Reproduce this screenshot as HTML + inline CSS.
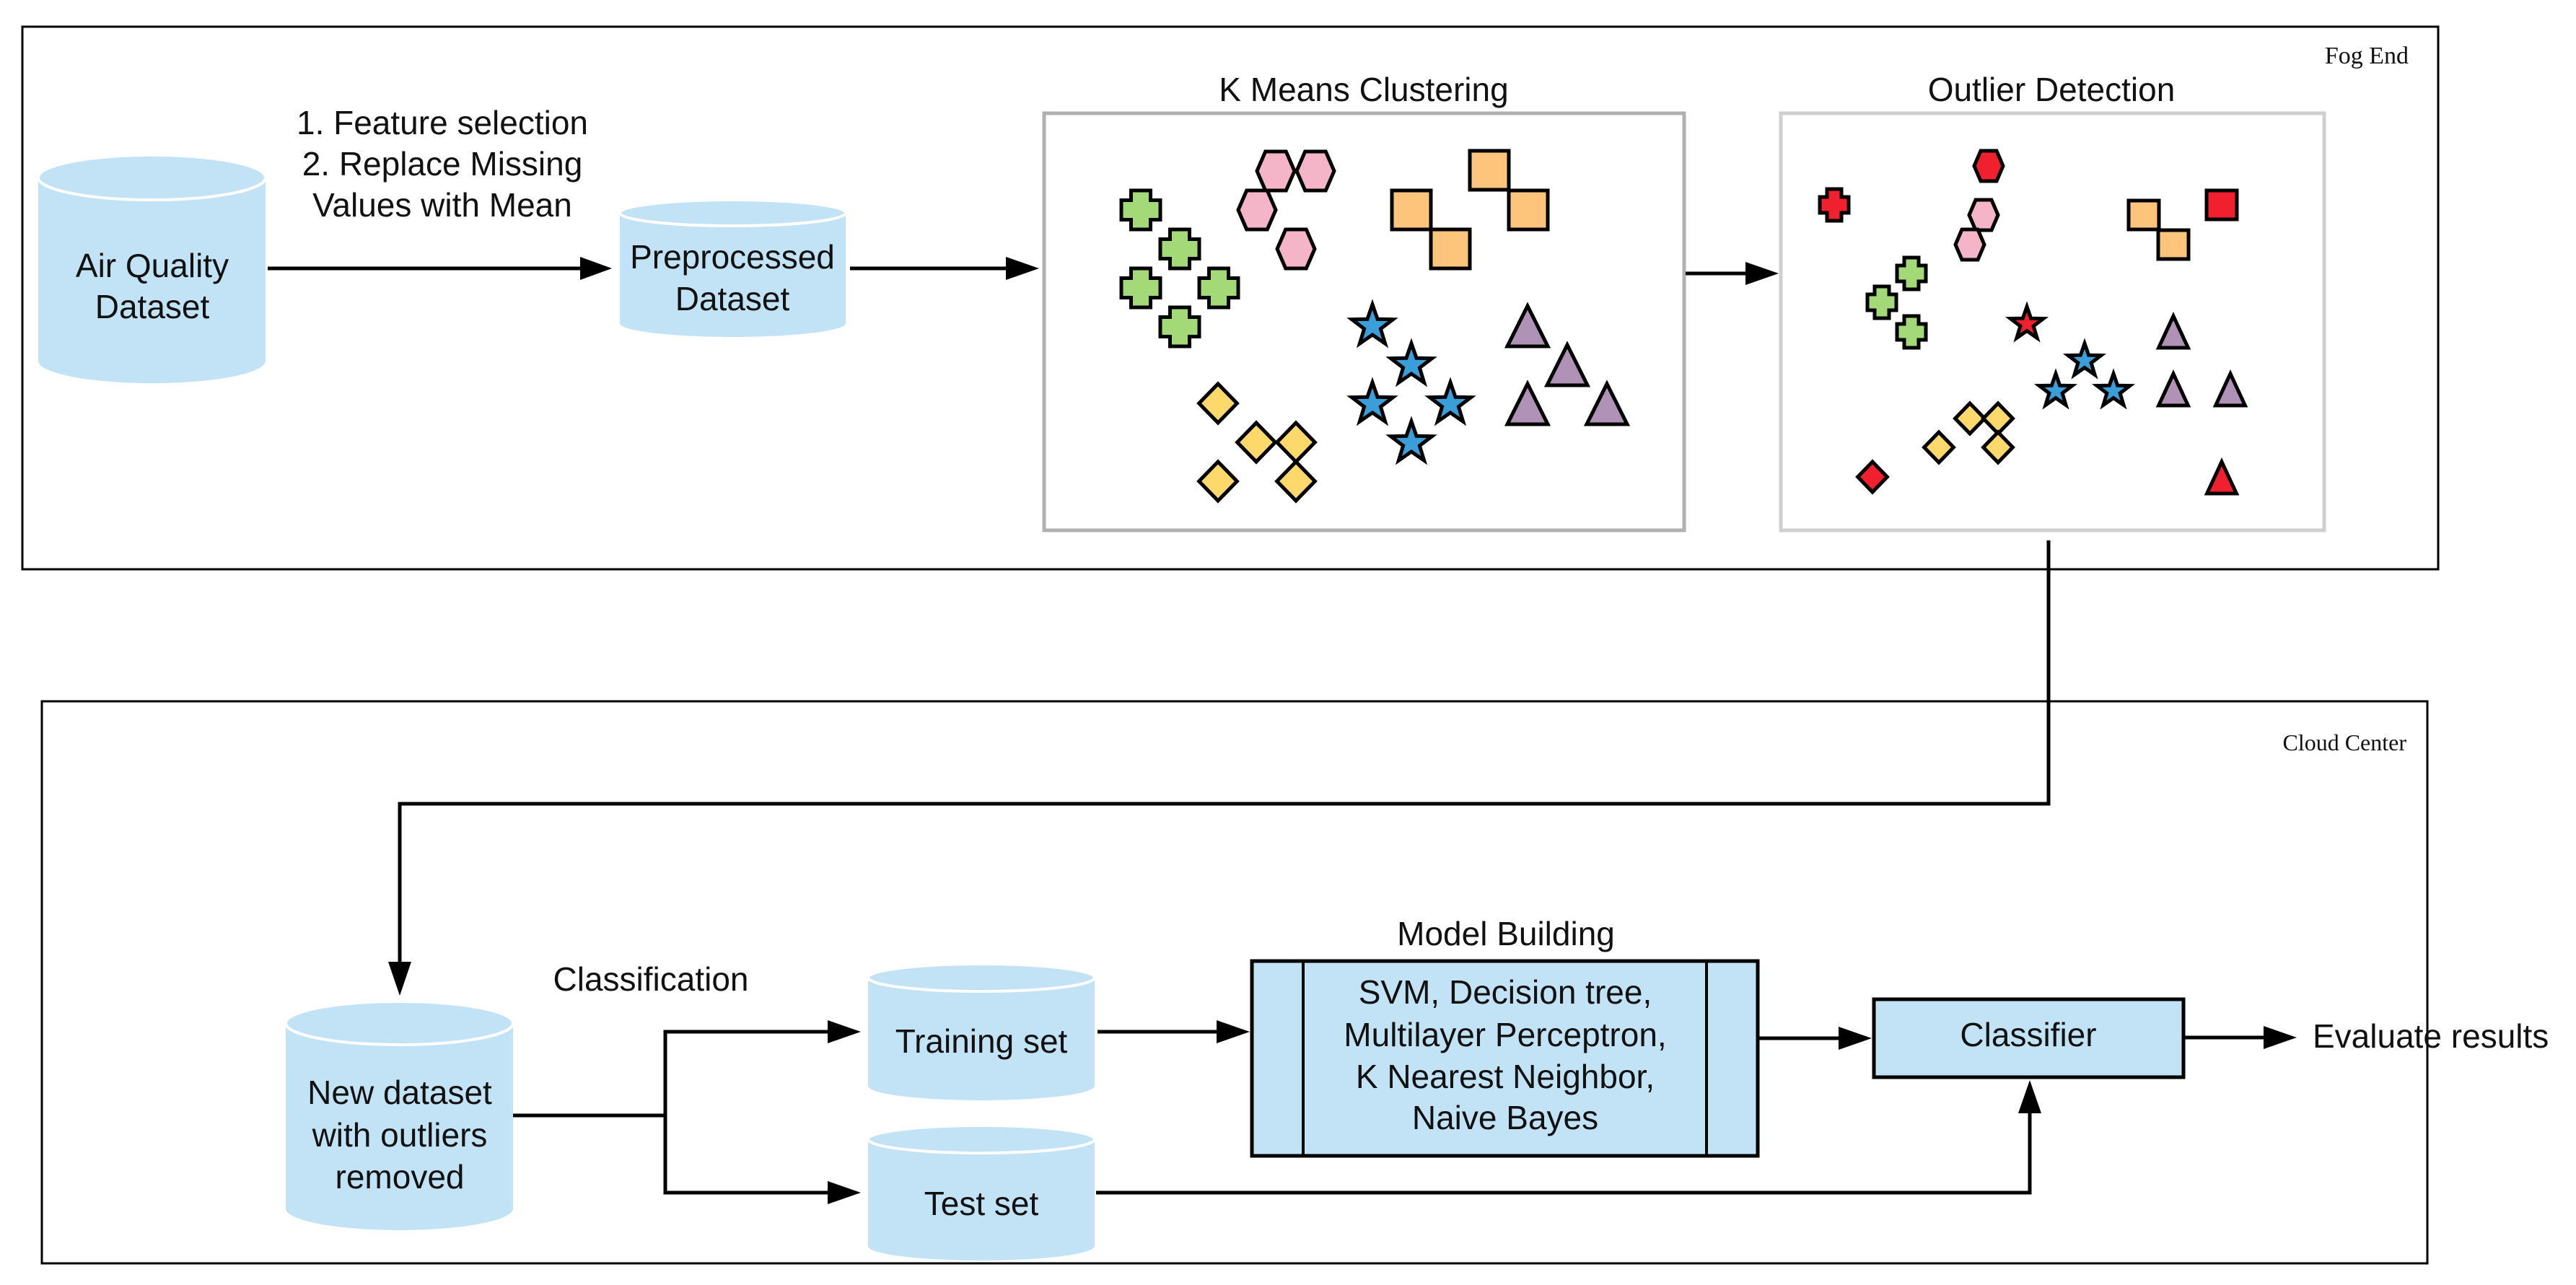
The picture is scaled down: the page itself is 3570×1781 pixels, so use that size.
<!DOCTYPE html>
<html><head><meta charset="utf-8"><style>
html,body{margin:0;padding:0;background:#fff}
svg{display:block}
text{font-family:"Liberation Sans",sans-serif;font-size:46px;fill:#111}
.s{font-family:"Liberation Serif",serif;font-size:34px}
</style></head><body>
<svg width="3570" height="1781" viewBox="0 0 3570 1781" xmlns="http://www.w3.org/2000/svg">
<defs>
<path id="cross" d="M-0.5,-1 H0.5 V-0.5 H1 V0.5 H0.5 V1 H-0.5 V0.5 H-1 V-0.5 H-0.5 Z" stroke="#000" stroke-width="5" vector-effect="non-scaling-stroke" stroke-linejoin="miter"/>
<path id="hex" d="M-1,0 L-0.55,-1 L0.55,-1 L1,0 L0.55,1 L-0.55,1 Z" stroke="#000" stroke-width="5" vector-effect="non-scaling-stroke"/>
<rect id="sq" x="-1" y="-1" width="2" height="2" stroke="#000" stroke-width="5" vector-effect="non-scaling-stroke"/>
<path id="star" d="M0,-1 L0.235,-0.324 L0.951,-0.309 L0.38,0.124 L0.588,0.809 L0,0.4 L-0.588,0.809 L-0.38,0.124 L-0.951,-0.309 L-0.235,-0.324 Z" stroke="#000" stroke-width="5" vector-effect="non-scaling-stroke"/>
<path id="tri" d="M0,-1 L0.85,1 L-0.85,1 Z" stroke="#000" stroke-width="5" vector-effect="non-scaling-stroke" stroke-linejoin="miter"/>
<path id="dia" d="M0,-1 L0.85,0 L0,1 L-0.85,0 Z" stroke="#000" stroke-width="5" vector-effect="non-scaling-stroke"/>
</defs>

<rect x="31" y="37" width="3348" height="752" fill="none" stroke="#000" stroke-width="3"/>
<text class="s" x="3338" y="88" text-anchor="end">Fog End</text>

<g fill="#c2e3f5">
<path d="M53,246 V500 A157,31 0 0 0 368,500 V246 Z"/>
<ellipse cx="210.5" cy="246" rx="157.5" ry="31" stroke="#fff" stroke-width="4"/>
</g>
<text x="211" y="384" text-anchor="middle">Air Quality</text>
<text x="211" y="441" text-anchor="middle">Dataset</text>

<text x="613" y="186" text-anchor="middle">1. Feature selection</text>
<text x="613" y="243" text-anchor="middle">2. Replace Missing</text>
<text x="613" y="300" text-anchor="middle">Values with Mean</text>

<line x1="371" y1="372" x2="810" y2="372" stroke="#000" stroke-width="5"/>
<path d="M804,356 L848,372 L804,388 Z"/>

<g fill="#c2e3f5">
<path d="M859,295 V448 A156.5,19 0 0 0 1172,448 V295 Z"/>
<ellipse cx="1015.5" cy="295" rx="156.5" ry="18" stroke="#fff" stroke-width="4"/>
</g>
<text x="1015" y="372" text-anchor="middle">Preprocessed</text>
<text x="1015" y="430" text-anchor="middle">Dataset</text>

<line x1="1178" y1="372" x2="1400" y2="372" stroke="#000" stroke-width="5"/>
<path d="M1394,356 L1440,372 L1394,388 Z"/>

<text x="1890" y="140" text-anchor="middle">K Means Clustering</text>
<rect x="1447" y="157" width="887" height="578" fill="#fff" stroke="#b0b0b0" stroke-width="5"/>
<g fill="#a3d977">
<use href="#cross" transform="translate(1581,291) scale(27)"/>
<use href="#cross" transform="translate(1635,345) scale(27)"/>
<use href="#cross" transform="translate(1581,399) scale(27)"/>
<use href="#cross" transform="translate(1689,399) scale(27)"/>
<use href="#cross" transform="translate(1635,453) scale(27)"/>
</g>
<g fill="#f4b5c8">
<use href="#hex" transform="translate(1768,237) scale(26,27)"/>
<use href="#hex" transform="translate(1823,237) scale(26,27)"/>
<use href="#hex" transform="translate(1742,291) scale(26,27)"/>
<use href="#hex" transform="translate(1796,345) scale(26,27)"/>
</g>
<g fill="#fdc57b">
<use href="#sq" transform="translate(2064,236) scale(27)"/>
<use href="#sq" transform="translate(1956,291) scale(27)"/>
<use href="#sq" transform="translate(2118,291) scale(27)"/>
<use href="#sq" transform="translate(2010,345) scale(27)"/>
</g>
<g fill="#3a9fd8">
<use href="#star" transform="translate(1902,452) scale(30)"/>
<use href="#star" transform="translate(1956,506) scale(30)"/>
<use href="#star" transform="translate(1902,560) scale(30)"/>
<use href="#star" transform="translate(2010,560) scale(30)"/>
<use href="#star" transform="translate(1956,614) scale(30)"/>
</g>
<g fill="#b092b6">
<use href="#tri" transform="translate(2117,452) scale(33,28)"/>
<use href="#tri" transform="translate(2172,506) scale(33,28)"/>
<use href="#tri" transform="translate(2117,560) scale(33,28)"/>
<use href="#tri" transform="translate(2227,560) scale(33,28)"/>
</g>
<g fill="#fdd96c">
<use href="#dia" transform="translate(1688,559) scale(31,27)"/>
<use href="#dia" transform="translate(1741,613) scale(31,27)"/>
<use href="#dia" transform="translate(1796,613) scale(31,27)"/>
<use href="#dia" transform="translate(1688,667) scale(31,27)"/>
<use href="#dia" transform="translate(1796,667) scale(31,27)"/>
</g>

<line x1="2336" y1="379" x2="2425" y2="379" stroke="#000" stroke-width="5"/>
<path d="M2419,363 L2465,379 L2419,395 Z"/>

<text x="2843" y="140" text-anchor="middle">Outlier Detection</text>
<rect x="2468" y="157" width="753" height="578" fill="#fff" stroke="#cfcfcf" stroke-width="5"/>
<use href="#cross" fill="#f0202f" transform="translate(2542,284) scale(20,22)"/>
<g fill="#a3d977">
<use href="#cross" transform="translate(2649,379) scale(20,22)"/>
<use href="#cross" transform="translate(2608,419) scale(20,22)"/>
<use href="#cross" transform="translate(2649,460) scale(20,22)"/>
</g>
<use href="#hex" fill="#f0202f" transform="translate(2756,230) scale(20,21)"/>
<g fill="#f4b5c8">
<use href="#hex" transform="translate(2749,298) scale(20,21)"/>
<use href="#hex" transform="translate(2730,339) scale(20,21)"/>
</g>
<g fill="#fdc57b">
<use href="#sq" transform="translate(2971,298) scale(21,20)"/>
<use href="#sq" transform="translate(3012,339) scale(21,20)"/>
</g>
<use href="#sq" fill="#f0202f" transform="translate(3079,284) scale(21,20)"/>
<use href="#star" fill="#f0202f" transform="translate(2809,449) scale(24)"/>
<g fill="#3a9fd8">
<use href="#star" transform="translate(2889,500) scale(24)"/>
<use href="#star" transform="translate(2849,542) scale(24)"/>
<use href="#star" transform="translate(2929,542) scale(24)"/>
</g>
<g fill="#b092b6">
<use href="#tri" transform="translate(3012,460) scale(24,22)"/>
<use href="#tri" transform="translate(3012,540) scale(24,22)"/>
<use href="#tri" transform="translate(3091,540) scale(24,22)"/>
</g>
<use href="#tri" fill="#f0202f" transform="translate(3079,662) scale(24,22)"/>
<g fill="#fdd96c">
<use href="#dia" transform="translate(2730,580) scale(24,21)"/>
<use href="#dia" transform="translate(2769,580) scale(24,21)"/>
<use href="#dia" transform="translate(2687,620) scale(24,21)"/>
<use href="#dia" transform="translate(2769,620) scale(24,21)"/>
</g>
<use href="#dia" fill="#f0202f" transform="translate(2595,661) scale(24,21)"/>

<rect x="58" y="972" width="3306" height="779" fill="none" stroke="#000" stroke-width="3"/>
<text class="s" x="3335" y="1040" text-anchor="end" style="font-size:32px">Cloud Center</text>

<polyline points="2839,749 2839,1114 554,1114 554,1340" fill="none" stroke="#000" stroke-width="5"/>
<path d="M538,1333 L554,1380 L570,1333 Z"/>

<g fill="#c2e3f5">
<path d="M396,1418 V1675 A157.5,30 0 0 0 711,1675 V1418 Z"/>
<ellipse cx="553.5" cy="1418" rx="157.5" ry="30" stroke="#fff" stroke-width="4"/>
</g>
<text x="554" y="1530" text-anchor="middle">New dataset</text>
<text x="554" y="1589" text-anchor="middle">with outliers</text>
<text x="554" y="1647" text-anchor="middle">removed</text>

<text x="902" y="1373" text-anchor="middle">Classification</text>

<polyline points="711,1546 922,1546" fill="none" stroke="#000" stroke-width="5"/>
<polyline points="1150,1430 922,1430 922,1653 1150,1653" fill="none" stroke="#000" stroke-width="5"/>
<path d="M1147,1414 L1193,1430 L1147,1446 Z"/>
<path d="M1147,1637 L1193,1653 L1147,1669 Z"/>

<g fill="#c2e3f5">
<path d="M1203,1355 V1505 A157,20 0 0 0 1517,1505 V1355 Z"/>
<ellipse cx="1360" cy="1355" rx="157" ry="19" stroke="#fff" stroke-width="4"/>
</g>
<text x="1360" y="1459" text-anchor="middle">Training set</text>
<g fill="#c2e3f5">
<path d="M1203,1579 V1727 A157,20 0 0 0 1517,1727 V1579 Z"/>
<ellipse cx="1360" cy="1579" rx="157" ry="19" stroke="#fff" stroke-width="4"/>
</g>
<text x="1360" y="1684" text-anchor="middle">Test set</text>

<line x1="1521" y1="1430" x2="1690" y2="1430" stroke="#000" stroke-width="5"/>
<path d="M1686,1414 L1732,1430 L1686,1446 Z"/>

<text x="2087" y="1310" text-anchor="middle">Model Building</text>
<rect x="1735" y="1332" width="701" height="270" fill="#c2e3f5" stroke="#000" stroke-width="5"/>
<line x1="1806" y1="1332" x2="1806" y2="1602" stroke="#000" stroke-width="4"/>
<line x1="2365" y1="1332" x2="2365" y2="1602" stroke="#000" stroke-width="4"/>
<text x="2086" y="1391" text-anchor="middle">SVM, Decision tree,</text>
<text x="2086" y="1450" text-anchor="middle">Multilayer Perceptron,</text>
<text x="2086" y="1508" text-anchor="middle">K Nearest Neighbor,</text>
<text x="2086" y="1565" text-anchor="middle">Naive Bayes</text>

<line x1="2438" y1="1439" x2="2552" y2="1439" stroke="#000" stroke-width="5"/>
<path d="M2548,1423 L2594,1439 L2548,1455 Z"/>

<rect x="2597" y="1385" width="429" height="108" fill="#c2e3f5" stroke="#000" stroke-width="5"/>
<text x="2811" y="1450" text-anchor="middle">Classifier</text>

<polyline points="1519,1653 2813,1653 2813,1540" fill="none" stroke="#000" stroke-width="5"/>
<path d="M2797,1543 L2813,1497 L2829,1543 Z"/>

<line x1="3028" y1="1438" x2="3140" y2="1438" stroke="#000" stroke-width="5"/>
<path d="M3137,1422 L3183,1438 L3137,1454 Z"/>
<text x="3205" y="1452">Evaluate results</text>
</svg>
</body></html>
